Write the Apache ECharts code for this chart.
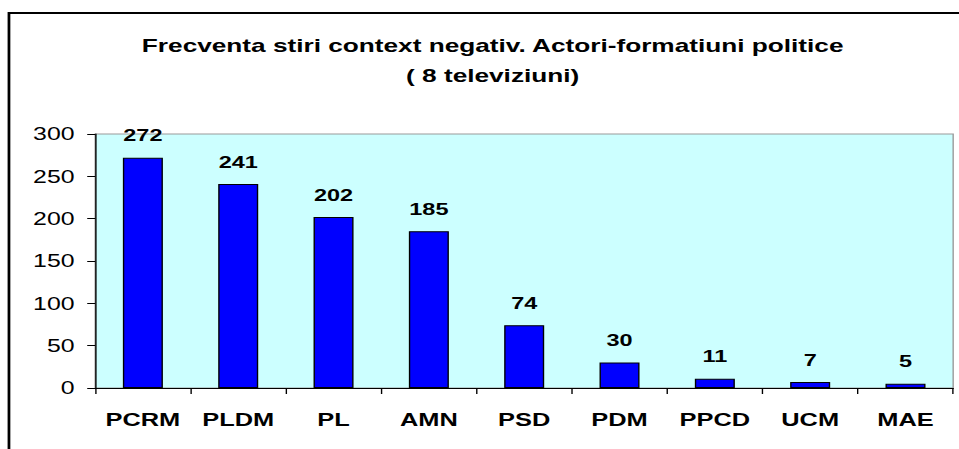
<!DOCTYPE html>
<html>
<head>
<meta charset="utf-8">
<script src="https://cdn.jsdelivr.net/npm/echarts@6/dist/echarts.min.js"></script>
<style>
  html, body { margin: 0; padding: 0; background: #fff; overflow: hidden; }
  /* the original picture is stretched sideways, so the chart is drawn narrower and widened */
  #chart { width: 695px; height: 449px; transform: scaleX(1.38); transform-origin: 0 0; }
</style>
</head>
<body>
<div id="chart"></div>
<script>
// date
const categories = ['PCRM', 'PLDM', 'PL', 'AMN', 'PSD', 'PDM', 'PPCD', 'UCM', 'MAE'];
const values = [272, 241, 202, 185, 74, 30, 11, 7, 5];
const yTicks = [0, 50, 100, 150, 200, 250, 300];

const chart = echarts.init(document.getElementById('chart'), null, { renderer: 'svg' });

const font = 'Liberation Sans, Arial, sans-serif';

const option = {
  backgroundColor: '#ffffff',
  animation: false,
  title: {
    text: 'Frecventa stiri context negativ. Actori-formatiuni politice\n( 8 televiziuni)',
    left: 352,
    top: 25,
    textAlign: 'center',
    textStyle: {
      fontFamily: font,
      fontSize: 19,
      fontWeight: 'bold',
      color: '#000',
      lineHeight: 30
    }
  },
  graphic: [
    {
      type: 'polyline',
      shape: { points: [[6.5, 470], [6.5, 13], [720, 13]] },
      style: { stroke: '#000', lineWidth: 2, fill: null }
    }
  ],
  grid: {
    left: 69,
    top: 134,
    right: 4.3,
    bottom: 61,
    show: true,
    backgroundColor: '#ccffff',
    borderColor: '#999',
    borderWidth: 1
  },
  xAxis: {
    type: 'category',
    data: categories,
    axisLine: { lineStyle: { color: '#000', width: 1 } },
    axisTick: { show: true, interval: 0, length: 6, lineStyle: { color: '#000' } },
    axisLabel: {
      interval: 0,
      hideOverlap: false,
      margin: 23,
      fontFamily: font,
      fontSize: 18.4,
      fontWeight: 'bold',
      color: '#000'
    }
  },
  yAxis: {
    type: 'value',
    min: yTicks[0],
    max: yTicks[yTicks.length - 1],
    interval: 50,
    splitLine: { show: false },
    axisLine: { show: true, lineStyle: { color: '#000', width: 1 } },
    axisTick: { show: true, length: 5.8, lineStyle: { color: '#000' } },
    axisLabel: {
      margin: 15,
      fontFamily: font,
      fontSize: 18,
      color: '#000'
    }
  },
  series: [
    {
      type: 'bar',
      data: values,
      barWidth: 29,
      itemStyle: {
        color: '#0000ff',
        borderColor: '#000',
        borderWidth: 1
      },
      label: {
        show: true,
        position: 'top',
        distance: 14,
        fontFamily: font,
        fontSize: 17,
        fontWeight: 'bold',
        color: '#000'
      }
    }
  ]
};

chart.setOption(option);
</script>
</body>
</html>
